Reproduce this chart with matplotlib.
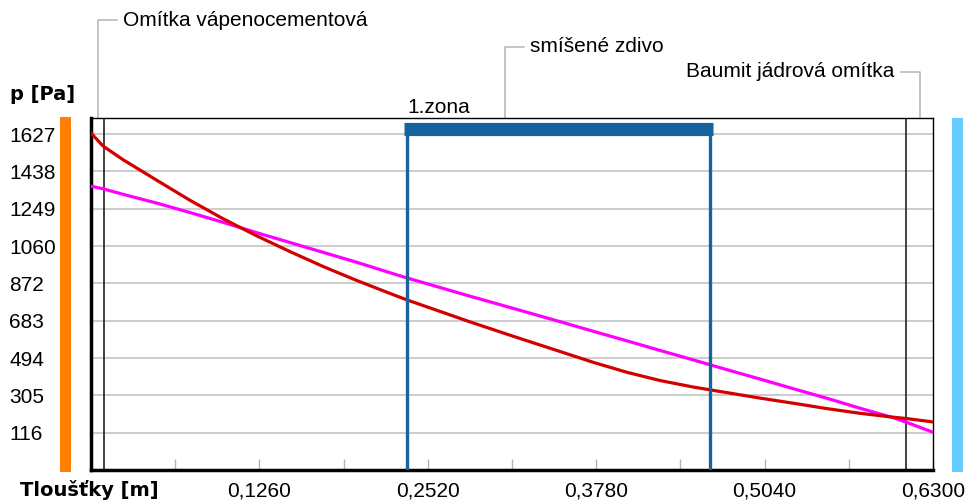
import matplotlib
matplotlib.use("Agg")
import matplotlib.pyplot as plt
import matplotlib.transforms as mtransforms
from matplotlib.patches import Rectangle

# vrstvy konstrukce (hranice v m) a jejich názvy
layer_edges = [0.0, 0.01, 0.61, 0.63]
layer_names = ["Omítka vápenocementová", "smíšené zdivo", "Baumit jádrová omítka"]

# 1. zona
zone_start = 0.2364
zone_end = 0.463
zone_label = "1.zona"

# osy
x_ticks = [0.126, 0.252, 0.378, 0.504, 0.63]
x_tick_labels = ["0,1260", "0,2520", "0,3780", "0,5040", "0,6300"]
x_minor = [0.063, 0.189, 0.315, 0.441, 0.567]
y_ticks = [116, 305, 494, 683, 872, 1060, 1249, 1438, 1627]
y_min, y_max = -72, 1708

# průběh tlaků
red_x = [0, 0.009, 0.024, 0.049, 0.074, 0.099, 0.124, 0.149, 0.174, 0.199, 0.224,
         0.236, 0.256, 0.284, 0.316, 0.351, 0.376, 0.401, 0.426, 0.451, 0.476,
         0.501, 0.526, 0.551, 0.575, 0.600, 0.609, 0.630]
red_p = [1632, 1566, 1497, 1394, 1292, 1198, 1112, 1032, 956, 886, 820,
         789, 742, 676, 604, 527, 472, 422, 380, 347, 319,
         291, 265, 238, 215, 195, 189, 171]

mag_x = [0, 0.009, 0.024, 0.049, 0.074, 0.099, 0.124, 0.149, 0.174, 0.199, 0.224,
         0.236, 0.284, 0.316, 0.351, 0.376, 0.401, 0.426, 0.451, 0.476, 0.501,
         0.526, 0.551, 0.575, 0.600, 0.609, 0.630]
mag_p = [1363, 1350, 1322, 1278, 1230, 1180, 1128, 1078, 1028, 978, 925,
         900, 806, 745, 678, 629, 581, 532, 484, 435, 387,
         338, 290, 241, 193, 172, 119]

FONT = "Liberation Sans"
FS = 15

fig = plt.figure(figsize=(9.67, 5.04), dpi=100)
ax = fig.add_axes([0.0941, 0.0675, 0.8707, 0.6984])

ax.set_xlim(layer_edges[0], layer_edges[-1])
ax.set_ylim(y_min, y_max)

# mřížka
for y in y_ticks:
    ax.axhline(y, color="#c8c8c8", lw=1.3, zorder=1)

# hranice vrstev
for x in layer_edges[1:-1]:
    ax.axvline(x, color="#222222", lw=1.2, zorder=2)

ax.plot(mag_x, mag_p, color="#ff00ff", lw=2.3, zorder=4)
ax.plot(red_x, red_p, color="#d40000", lw=2.3, zorder=5)

px = (layer_edges[-1] - layer_edges[0]) / 842.0  # m na pixel

# zóna
bar_y = 0.970
trans_xa = mtransforms.blended_transform_factory(ax.transData, ax.transAxes)
ax.plot([zone_start - 3 * px, zone_end + 3 * px], [bar_y, bar_y], transform=trans_xa,
        color="#17639e", lw=9.5, solid_capstyle="butt", zorder=6, clip_on=False)
for x in (zone_start, zone_end):
    ax.plot([x, x], [0, bar_y], transform=trans_xa, color="#17639e", lw=2.4, zorder=6)
ax.text(zone_start, 1.031, zone_label, transform=trans_xa, ha="left", va="center",
        fontsize=FS, family=FONT)

# popisky vrstev s odkazovou čarou
label_heights = [1.278, 1.202, 1.131]
label_sides = [1, 1, -1]
for i, name in enumerate(layer_names):
    mid = (layer_edges[i] + layer_edges[i + 1]) / 2
    h = label_heights[i]
    s = label_sides[i]
    ax.plot([mid, mid, mid + s * 19 * px], [1.0, h, h], transform=trans_xa,
            color="#b4b4b4", lw=1.1, clip_on=False, zorder=0)
    ax.text(mid + s * 25 * px, h, name, transform=trans_xa, va="center",
            ha="left" if s > 0 else "right", fontsize=FS, family=FONT)

# osy a ticky
for side in ("left", "bottom"):
    ax.spines[side].set_linewidth(2.5)
for side in ("top", "right"):
    ax.spines[side].set_linewidth(1.0)

ax.set_xticks(x_ticks, x_tick_labels)
ax.set_xticks(x_minor, minor=True)
ax.tick_params(axis="x", which="both", direction="in", length=8, width=1,
               color="#b4b4b4", pad=8)
ax.set_yticks(y_ticks, [str(v) for v in y_ticks])
ax.tick_params(axis="y", length=0, pad=59)
for lab in ax.get_yticklabels():
    lab.set_horizontalalignment("left")
for lab in ax.get_xticklabels() + ax.get_yticklabels():
    lab.set_fontsize(FS)
    lab.set_family(FONT)

# barevné pruhy po stranách
fig.add_artist(Rectangle((60 / 967, 32 / 504), 11 / 967, 355 / 504,
                         transform=fig.transFigure, color="#ff8000", lw=0))
fig.add_artist(Rectangle((952 / 967, 32 / 504), 11 / 967, 354 / 504,
                         transform=fig.transFigure, color="#66ccff", lw=0))

fig.text(10 / 967, 1 - 94 / 504, "p [Pa]", ha="left", va="center",
         fontsize=14, fontweight="bold", family="DejaVu Sans")
fig.text(20 / 967, 1 - 490 / 504, "Tloušťky [m]", ha="left", va="center",
         fontsize=14, fontweight="bold", family="DejaVu Sans")

fig.savefig("out.png", dpi=100)
